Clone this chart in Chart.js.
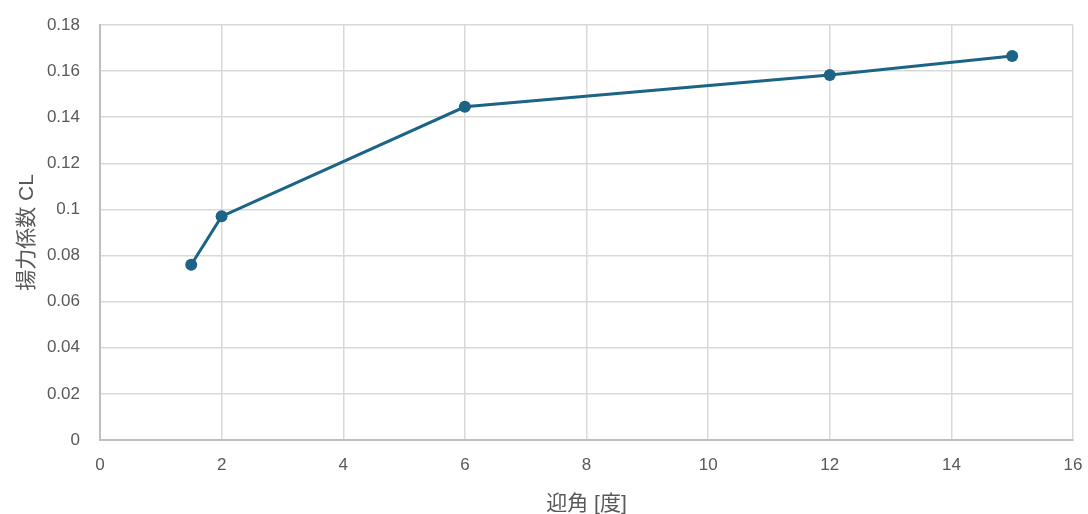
<!DOCTYPE html>
<html>
<head>
<meta charset="utf-8">
<script src="https://cdn.jsdelivr.net/npm/chart.js@4/dist/chart.umd.min.js"></script>
<style>
  html, body { margin: 0; padding: 0; background: #ffffff; }
  #wrap { width: 1088px; height: 514px; }
</style>
</head>
<body>
<div id="wrap"><canvas id="c" width="1088" height="514"></canvas></div>
<script>
// Angle of attack [deg] and lift coefficient CL
const angles = [1.5, 2, 6, 12, 15];
const liftCoef = [0.076, 0.097, 0.1445, 0.1583, 0.1666];

const xTitle = '迎角 [度]';
const yTitle = '揚力係数 CL';

const fontFamily = '"Liberation Sans", "Noto Sans CJK JP", sans-serif';
const lineColor = '#1b6486';

const points = angles.map((a, i) => ({ x: a, y: liftCoef[i] }));

new Chart(document.getElementById('c'), {
  type: 'scatter',
  data: {
    datasets: [{
      data: points,
      showLine: true,
      borderColor: lineColor,
      backgroundColor: lineColor,
      borderWidth: 3,
      pointRadius: 6,
      pointHoverRadius: 6,
      pointBorderWidth: 0,
      tension: 0
    }]
  },
  options: {
    responsive: false,
    animation: false,
    layout: { padding: { top: 25, right: 15, left: 0, bottom: 0 } },
    plugins: { legend: { display: false }, tooltip: { enabled: false } },
    scales: {
      x: {
        type: 'linear',
        min: 0, max: 16,
        ticks: { stepSize: 2, color: '#595959', padding: 15, font: { family: fontFamily, size: 17 } },
        grid: { color: '#d9d9d9', lineWidth: 1.5, drawTicks: false },
        border: { color: '#bfbfbf', width: 2 },
        title: { display: true, text: xTitle, color: '#595959', padding: { top: 0, bottom: -3 }, font: { family: fontFamily, size: 21 } },
        afterFit: (s) => { s.height = 74; s.paddingLeft = 0; s.paddingRight = 0; }
      },
      y: {
        type: 'linear',
        min: 0, max: 0.18,
        ticks: {
          stepSize: 0.02, color: '#595959', padding: 20,
          font: { family: fontFamily, size: 17 },
          callback: (v) => String(Math.round(v * 100) / 100)
        },
        grid: { color: '#d9d9d9', lineWidth: 1.5, drawTicks: false },
        border: { color: '#bfbfbf', width: 2 },
        title: { display: true, text: yTitle, color: '#595959', padding: { top: 15, bottom: 0 }, font: { family: fontFamily, size: 21 } },
        afterFit: (s) => { s.width = 100; s.paddingTop = 0; s.paddingBottom = 0; }
      }
    }
  }
});
</script>
</body>
</html>
